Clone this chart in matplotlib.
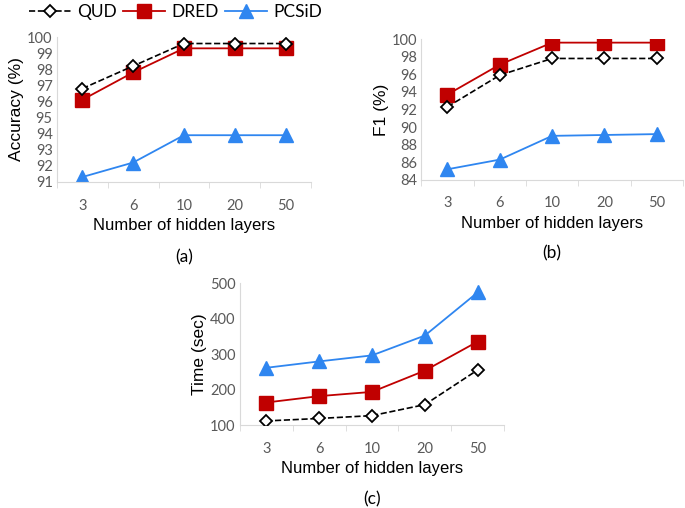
import matplotlib
matplotlib.use("Agg")
import matplotlib.pyplot as plt
import numpy as np

layers = ["3", "6", "10", "20", "50"]

acc_qud = [96.8, 98.2, 99.6, 99.6, 99.6]
acc_dred = [96.1, 97.8, 99.3, 99.3, 99.3]
acc_pcsid = [91.3, 92.2, 93.9, 93.9, 93.9]

f1_qud = [92.3, 95.9, 97.8, 97.8, 97.8]
f1_dred = [93.7, 97.1, 99.6, 99.6, 99.6]
f1_pcsid = [85.2, 86.3, 89.0, 89.1, 89.2]

time_qud = [112, 119, 127, 158, 256]
time_dred = [164, 182, 194, 254, 336]
time_pcsid = [262, 280, 297, 353, 475]

TICK_COL = "#595959"
SPINE_COL = "#d9d9d9"
RED = "#c00000"
BLUE = "#2f86f0"


def draw_panel(ax, qud, dred, pcsid, ylim, yticks, ylabel, tag):
    x = np.arange(len(layers))
    lq, = ax.plot(x, qud, "k--", marker="D", markersize=6.5, markerfacecolor="white",
                  markeredgecolor="black", markeredgewidth=1.3, linewidth=1.2, label="QUD", zorder=3)
    ld, = ax.plot(x, dred, color=RED, marker="s", markersize=10, linewidth=1.3, label="DRED", zorder=2)
    lp, = ax.plot(x, pcsid, color=BLUE, marker="^", markersize=10, linewidth=1.3, label="PCSiD", zorder=2)

    ax.set_xlim(-0.5, len(layers) - 0.5)
    ax.set_ylim(*ylim)
    ax.set_yticks(yticks)
    ax.set_xticks(x)
    ax.set_xticklabels(layers)
    # tick marks sit between the categories
    ax.set_xticks(np.arange(-0.5, len(layers), 1.0), minor=True)
    ax.tick_params(axis="x", which="major", length=0, pad=12, labelsize=10.5, colors=TICK_COL)
    ax.tick_params(axis="x", which="minor", length=4, color=SPINE_COL)
    ax.tick_params(axis="y", length=0, labelsize=10.5, colors=TICK_COL, pad=3)
    for lbl in ax.get_xticklabels() + ax.get_yticklabels():
        lbl.set_family("Lato")

    for s in ["top", "right"]:
        ax.spines[s].set_visible(False)
    ax.spines["left"].set_color(SPINE_COL)
    ax.spines["bottom"].set_color(SPINE_COL)

    ax.set_ylabel(ylabel, fontsize=12.5, family="Liberation Sans", labelpad=2)
    ax.set_xlabel("Number of hidden layers", fontsize=12, family="Liberation Sans", labelpad=4)
    ax.text(0.5, -0.52, tag, transform=ax.transAxes, ha="center", va="center",
            fontsize=12.5, family="Lato")
    return lq, ld, lp


fig = plt.figure(figsize=(6.85, 5.08), dpi=100)

ax_a = fig.add_axes([0.083, 0.642, 0.371, 0.285])
ax_b = fig.add_axes([0.615, 0.646, 0.382, 0.277])
ax_c = fig.add_axes([0.350, 0.163, 0.386, 0.279])

handles = draw_panel(ax_a, acc_qud, acc_dred, acc_pcsid, (91, 100), range(91, 101), "Accuracy (%)", "(a)")
draw_panel(ax_b, f1_qud, f1_dred, f1_pcsid, (84, 100), range(84, 101, 2), "F1 (%)", "(b)")
draw_panel(ax_c, time_qud, time_dred, time_pcsid, (100, 500), range(100, 501, 100), "Time (sec)", "(c)")

fig.legend(handles, ["QUD", "DRED", "PCSiD"], loc="upper left", bbox_to_anchor=(0.027, 1.012),
           ncol=3, frameon=False, handlelength=2.4, columnspacing=0.4, handletextpad=0.35,
           borderaxespad=0.2, prop={"family": "Lato", "size": 12.5})

fig.savefig("out.png", dpi=100)
